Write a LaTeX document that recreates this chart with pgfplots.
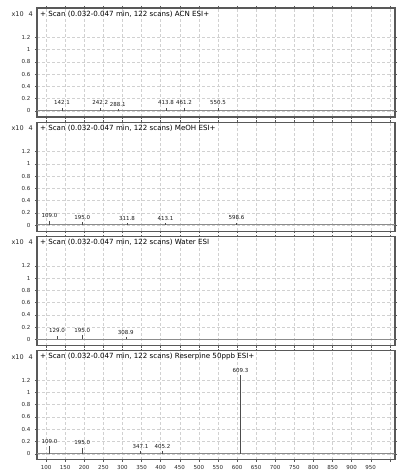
\documentclass[border=0pt]{standalone}
\usepackage{pgfplots}
\pgfplotsset{compat=1.18}
\usepackage{fontspec}
\setmainfont{DejaVu Sans}

\pgfplotsset{
  ms/.style={
    scale only axis, width=358pt, height=109pt,
    xmin=76.4, xmax=1013.6, ymin=-0.1, ymax=1.675,
    xtick={100,150,...,1000},
    xticklabels={100,150,200,250,300,350,400,450,500,550,600,650,700,750,800,850,900,950,},
    ytick={0,0.2,0.4,0.6,0.8,1,1.2},
    yticklabels={0,0.2,0.4,0.6,0.8,1,1.2},
    grid=major,
    major grid style={densely dashed, black!18, line width=0.4pt},
    axis line style={black!65, line width=1.1pt},
    tick style={black!65, line width=0.4pt},
    tick align=outside, major tick length=2pt,
    ticklabel style={font=\fontsize{5.5}{6}\selectfont, text=black!85},
    yticklabel style={xshift=-1pt},
    /pgf/number format/assume math mode=true,
    clip=false,
  },
  peaks/.style={ycomb, black!70, line width=0.6pt, mark=none,
    nodes near coords, point meta=explicit symbolic,
    every node near coord/.append style={font=\fontsize{5.5}{6}\selectfont,
      text=black!90, anchor=south, inner sep=1pt, yshift=1.5pt}},
  base/.style={black!45, line width=0.4pt, mark=none},
}
\newcommand{\paneltitle}[1]{%
  \node[anchor=west, font=\fontsize{7.1}{8}\selectfont, inner sep=0pt]
    at (rel axis cs:0.008,0.945) {+ Scan (0.032-0.047 min, 122 scans) #1};
  \node[anchor=east, font=\fontsize{6.5}{7}\selectfont, inner sep=0pt, text=black!85]
    at (rel axis cs:0,0.945) {x10\kern5pt 4\kern4pt};
}

\begin{document}
\begin{tikzpicture}
\path[use as bounding box] (-37pt,8pt) rectangle (361pt,-465pt);

% Panel 1: ACN
\begin{axis}[ms, at={(0pt,0pt)}, anchor=north west, xticklabels={}]
\addplot[base] coordinates {(76.4,0.01) (1013.6,0.01)};
\addplot[peaks] table[meta=lab] {
x y lab
142.1 0.05 142.1
242.2 0.05 242.2
288.1 0.03 288.1
413.8 0.05 413.8
461.2 0.05 461.2
550.5 0.05 550.5
};
\paneltitle{ACN ESI+}
\end{axis}

% Panel 2: MeOH
\begin{axis}[ms, at={(0pt,-114.3pt)}, anchor=north west, xticklabels={}]
\addplot[base] coordinates {(76.4,0.01) (1013.6,0.01)};
\addplot[peaks] table[meta=lab] {
x y lab
109.0 0.07 109.0
195.0 0.05 195.0
311.8 0.03 311.8
413.1 0.03 413.1
598.6 0.04 598.6
};
\paneltitle{MeOH ESI+}
\end{axis}

% Panel 3: Water
\begin{axis}[ms, at={(0pt,-228.6pt)}, anchor=north west, xticklabels={}]
\addplot[base] coordinates {(76.4,0.01) (1013.6,0.01)};
\addplot[peaks] table[meta=lab] {
x y lab
129.0 0.06 129.0
195.0 0.07 195.0
308.9 0.04 308.9
};
\paneltitle{Water ESI}
\end{axis}

% Panel 4: Reserpine
\begin{axis}[ms, at={(0pt,-342.9pt)}, anchor=north west]
\addplot[base] coordinates {(76.4,0.01) (1013.6,0.01)};
\addplot[peaks] table[meta=lab] {
x y lab
109.0 0.12 109.0
195.0 0.10 195.0
347.1 0.04 347.1
405.2 0.04 405.2
609.3 1.28 609.3
};
\paneltitle{Reserpine 50ppb ESI+}
\end{axis}
\end{tikzpicture}
\end{document}
